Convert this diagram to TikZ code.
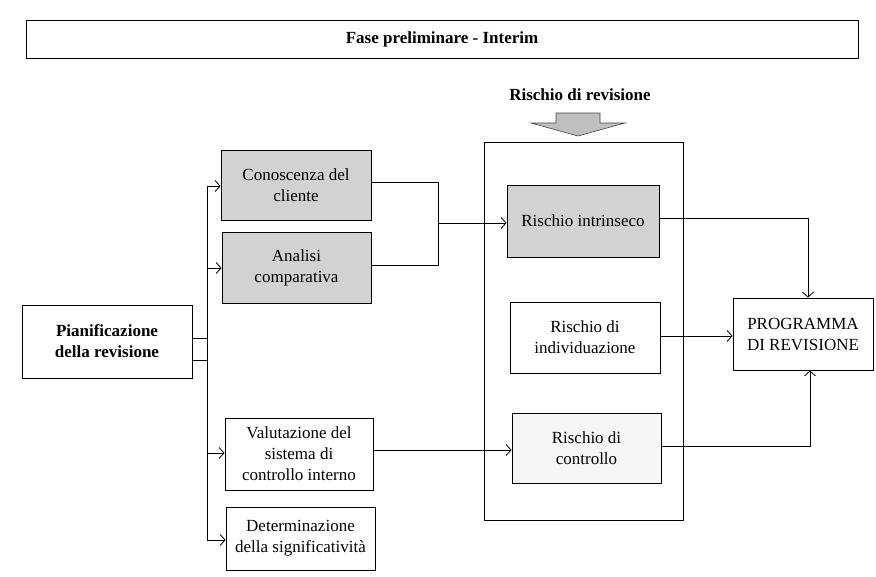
\documentclass[tikz,border=0pt]{standalone}
\usepackage{fontspec}
\setmainfont{Liberation Serif}
\usetikzlibrary{arrows.meta}
\tikzset{
  box/.style={draw=black, line width=0.8pt, align=center, inner sep=2pt,
    font=\fontsize{17}{21}\selectfont},
  gbox/.style={box, fill=gray!35},
  lbox/.style={box, fill=gray!7},
  conn/.style={draw=black, line width=0.8pt},
  arr/.style={conn, -{Straight Barb[length=5pt,width=11pt,line width=0.8pt]}},
}
\begin{document}
\begin{tikzpicture}[x=1pt,y=-1pt]
\useasboundingbox (0,0) rectangle (876,576);
% title bar
\node[box, minimum width=832pt, minimum height=38pt,
      font=\bfseries\fontsize{17}{21}\selectfont] (title) at (442,39) {Fase preliminare - Interim};
% risk header
\node[font=\bfseries\fontsize{17}{21}\selectfont] (rr) at (580,95) {Rischio di revisione};
\draw[fill=gray!50, draw=gray!55!black, line width=0.6pt]
  (556,113) -- (600,113) -- (600,123) -- (625,123) -- (578,136) -- (531,123) -- (556,123) -- cycle;
% container
\node[draw=black, line width=0.8pt, minimum width=199pt, minimum height=378pt] (cont) at (583.5,331) {};
% left column
\node[box, minimum width=170pt, minimum height=73pt,
      font=\bfseries\fontsize{17}{21}\selectfont] (pian) at (107,341.5) {Pianificazione\\della revisione};
\node[gbox, minimum width=150pt, minimum height=70pt] (con) at (296,185) {Conoscenza del\\cliente};
\node[gbox, minimum width=149pt, minimum height=71pt] (ana) at (296.5,267.5) {Analisi\\comparativa};
\node[box, minimum width=148pt, minimum height=72pt] (val) at (299,454) {Valutazione del\\sistema di\\controllo interno};
\node[box, minimum width=149pt, minimum height=63pt] (det) at (300.5,538.5) {Determinazione\\della significatività};
% risk boxes
\node[gbox, minimum width=152pt, minimum height=72pt] (intr) at (583,221) {Rischio intrinseco};
\node[box, minimum width=150pt, minimum height=71pt] (ind) at (585,337.5) {Rischio di\\individuazione};
\node[lbox, minimum width=149pt, minimum height=70pt] (ctl) at (586.5,448) {Rischio di\\controllo};
\node[box, minimum width=140pt, minimum height=72pt] (prog) at (803,334) {PROGRAMMA\\DI REVISIONE};
% junction coordinates
\coordinate (tt) at (207,186);
\coordinate (tb) at (207,540);
\coordinate (mj) at (438,223);
% trunk
\draw[conn] (tt) -- (tb);
\draw[conn] (pian.east |- 0,338) -- (207,338);
\draw[conn] (pian.east |- 0,360) -- (207,360);
\draw[arr] (tt) -- (con.west |- tt);
\draw[arr] (207,268) -- (ana.west |- 0,268);
\draw[arr] (207,453) -- (val.west |- 0,453);
\draw[arr] (tb) -- (det.west |- tb);
% merge
\draw[conn] (con.east |- 0,182) -- (438,182) -- (438,265) -- (ana.east |- 0,265);
\draw[arr] (mj) -- (intr.west |- mj);
% to programme
\draw[arr] (intr.east |- 0,218) -- (808,218) -- (prog.north -| 808,0);
\draw[arr] (ind.east |- 0,336) -- (prog.west |- 0,336);
\draw[arr] (val.east |- 0,450) -- (ctl.west |- 0,450);
\draw[arr] (ctl.east |- 0,446) -- (810,446) -- (prog.south -| 810,0);
\end{tikzpicture}
\end{document}
